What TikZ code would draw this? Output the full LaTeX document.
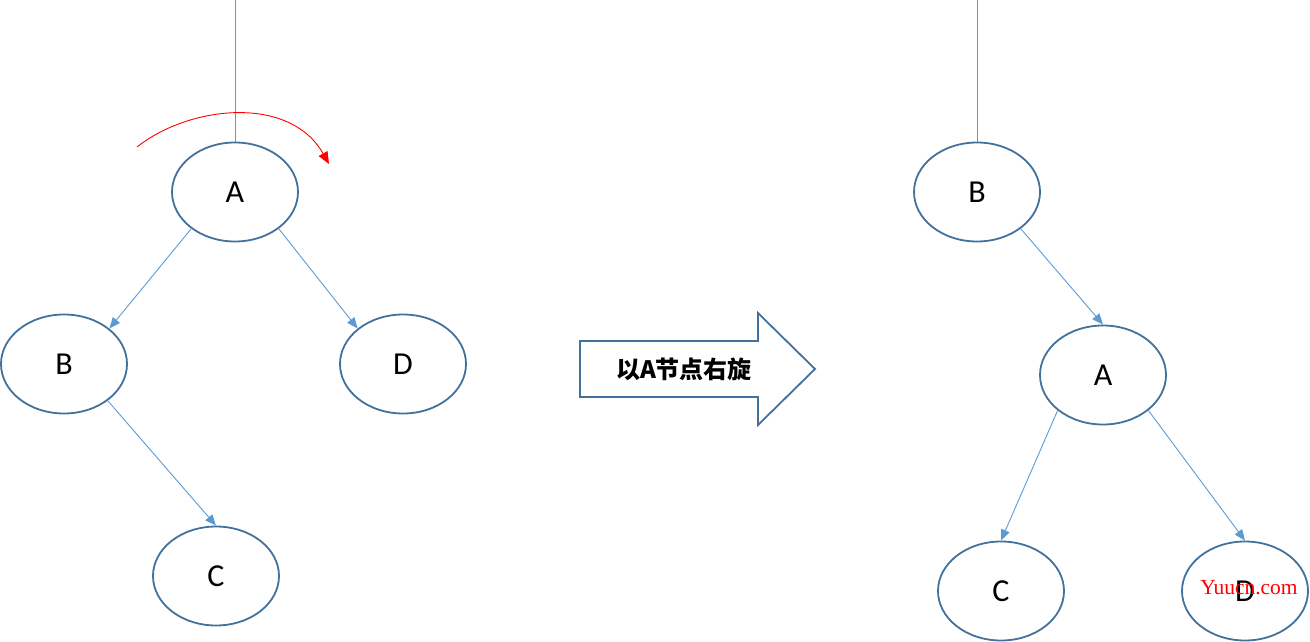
\documentclass[tikz,border=0pt]{standalone}
\usepackage{fontspec}
\setmainfont{Carlito}
\newfontfamily\cjk{Noto Sans CJK SC}
\newfontfamily\wmfont{Liberation Serif}
\usetikzlibrary{shapes.geometric,arrows.meta}
\definecolor{ellblue}{HTML}{41719C}
\definecolor{lnblue}{HTML}{5B9BD5}
\tikzset{
  treenode/.style={ellipse,draw=ellblue,line width=1.8pt,minimum width=126pt,minimum height=99pt,inner sep=0pt,font=\fontsize{32}{34}\selectfont},
  edge/.style={draw=lnblue,line width=0.9pt,-{Triangle[length=11pt,width=9pt]}},
  stem/.style={draw=lnblue,line width=1pt},
}
\begin{document}
\begin{tikzpicture}[x=1pt,y=-1pt]
\useasboundingbox (0,0) rectangle (1310,642);
% left tree
\node[treenode] (A) at (235,192) {A};
\node[treenode] (B) at (64,364) {B};
\node[treenode] (D) at (403,364) {D};
\node[treenode] (C) at (216,576) {C};
\coordinate (topL) at (235,0);
\draw[stem] (topL) -- (A.north);
\draw[edge] (A.220) -- (B.38);
\draw[edge] (A.320) -- (D.142);
\draw[edge] (B.320) -- (C.90);
\coordinate (rs) at (137,147);
\coordinate (re) at (329,164);
\draw[red,line width=0.9pt,-{Triangle[length=12pt,width=10pt]}] (rs) .. controls (190,105) and (290,95) .. (re);
% big arrow
\draw[draw=ellblue,line width=1.8pt,fill=white] (580,341) -- (758,341) -- (758,313) -- (815,369) -- (758,425) -- (758,397) -- (580,397) -- cycle;
\node[font=\cjk\bfseries\fontsize{24}{26}\selectfont] (lbl) at (684,369) {以A节点右旋};
% right tree
\node[treenode] (B2) at (977,192) {B};
\node[treenode] (A2) at (1103,375) {A};
\node[treenode] (C2) at (1001,591) {C};
\node[treenode] (D2) at (1245,591) {D};
\coordinate (topR) at (977,0);
\draw[stem] (topR) -- (B2.north);
\draw[edge] (B2.320) -- (A2.90);
\draw[edge] (A2.218) -- (C2.90);
\draw[edge] (A2.322) -- (D2.90);
\node[text=red,font=\wmfont\fontsize{21.5}{23}\selectfont] (wm) at (1249,588) {Yuucn.com};
\end{tikzpicture}
\end{document}
